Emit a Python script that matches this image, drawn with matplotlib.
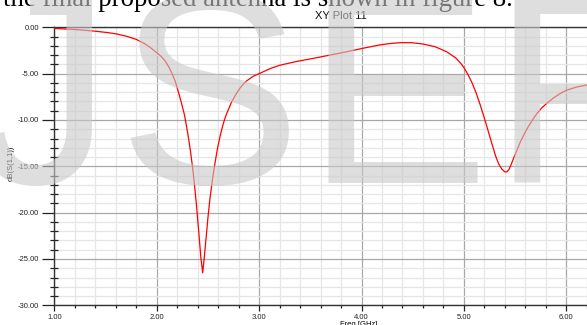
import matplotlib
matplotlib.use("Agg")
import matplotlib.pyplot as plt
from matplotlib.ticker import MultipleLocator, FormatStrFormatter

# S11 data
freq_ghz = [1.00, 1.22, 1.40, 1.52, 1.61, 1.70, 1.80, 1.88, 1.94, 1.99, 2.04, 2.08, 2.12,
            2.15, 2.18, 2.21, 2.24, 2.27, 2.29, 2.31, 2.33, 2.35, 2.37, 2.39, 2.41,
            2.43, 2.449, 2.465, 2.48, 2.50, 2.52, 2.545, 2.57, 2.595, 2.62, 2.65, 2.68,
            2.73, 2.77, 2.81, 2.87, 2.94, 3.01, 3.11, 3.20, 3.36, 3.53, 3.70, 3.86,
            4.02, 4.18, 4.28, 4.38, 4.49, 4.60, 4.72, 4.83, 4.92, 4.97, 5.00, 5.04,
            5.08, 5.12, 5.16, 5.20, 5.24, 5.28, 5.31, 5.34, 5.37, 5.40, 5.42, 5.44,
            5.46, 5.49, 5.52, 5.55, 5.59, 5.63, 5.67, 5.71, 5.76, 5.81, 5.87, 5.94,
            6.00, 6.10, 6.21]
s11_db = [-0.12, -0.25, -0.42, -0.57, -0.72, -0.95, -1.30, -1.75, -2.20, -2.65, -3.10, -3.60, -4.30,
          -5.00, -5.80, -6.90, -8.10, -9.40, -10.60, -11.90, -13.40, -15.10, -17.10, -19.40, -22.00,
          -24.70, -26.50, -24.80, -23.00, -20.60, -18.50, -16.40, -14.60, -13.00, -11.70, -10.40, -9.40,
          -8.10, -7.30, -6.60, -5.85, -5.30, -4.95, -4.45, -4.10, -3.70, -3.35, -2.98, -2.63,
          -2.25, -1.90, -1.75, -1.66, -1.66, -1.80, -2.10, -2.63, -3.30, -3.90, -4.35, -5.10,
          -6.00, -7.10, -8.40, -9.80, -11.30, -12.80, -13.90, -14.75, -15.30, -15.60, -15.60, -15.35,
          -14.85, -14.00, -13.20, -12.40, -11.50, -10.70, -10.00, -9.35, -8.70, -8.20, -7.66, -7.15,
          -6.80, -6.45, -6.20]

x_ticks = [1.0, 2.0, 3.0, 4.0, 5.0, 6.0]
y_ticks = [0.0, -5.0, -10.0, -15.0, -20.0, -25.0, -30.0]

W, H = 587, 325
fig = plt.figure(figsize=(W / 100, H / 100), dpi=100)
plt.rcParams['font.family'] = ['Liberation Sans', 'DejaVu Sans']

def fx(px):
    return px / W

def fy(py):
    return 1 - py / H

x0_px, x_scale = 54.3, 102.4
top_px, bot_px = 27.3, 305.3
ax = fig.add_axes([fx(x0_px), fy(bot_px), 1 - fx(x0_px), (bot_px - top_px) / H])
ax.set_xlim(1.0, 1.0 + (W - x0_px) / x_scale)
ax.set_ylim(-30, 0)

ax.xaxis.set_minor_locator(MultipleLocator(0.2))
ax.yaxis.set_minor_locator(MultipleLocator(1.0))
ax.set_xticks(x_ticks)
ax.set_yticks(y_ticks)
ax.xaxis.set_major_formatter(FormatStrFormatter('%.2f'))
ax.yaxis.set_major_formatter(FormatStrFormatter('%.2f'))

ax.grid(True, which='major', color='#a8a8a8', linewidth=0.9)
ax.grid(True, which='minor', color='#e6e6e6', linewidth=0.9)
ax.set_axisbelow(True)

for s in ['left', 'bottom', 'top']:
    ax.spines[s].set_color('#333333')
    ax.spines[s].set_linewidth(1.0)
ax.spines['right'].set_visible(False)

ax.tick_params(axis='y', which='major', direction='out', length=9, width=0.9,
               labelsize=5.5, colors='#222222', pad=2)
ax.tick_params(axis='y', which='minor', direction='inout', length=6, width=0.9,
               colors='#222222')
ax.tick_params(axis='x', which='major', direction='out', length=4, width=0.9,
               labelsize=5.5, colors='#222222', pad=2)
ax.tick_params(axis='x', which='minor', direction='out', length=2.5, width=0.9,
               colors='#222222')

ax.plot(freq_ghz, s11_db, color='#ff0000', linewidth=0.9, zorder=3)

ax.set_xlabel('Freq [GHz]', fontsize=5.5, labelpad=1)
ax.set_ylabel('dB(S(1,1))', fontsize=5.5)
ax.yaxis.set_label_coords((15 - x0_px) / (W - x0_px), 0.51)
ax.xaxis.set_label_coords((359 - x0_px) / (W - x0_px), -0.055)

fig.text(fx(341), fy(16), 'XY Plot 11', fontsize=8, ha='center', va='center',
         color='#111111')

# cropped line of document text above the chart
fig.text(fx(3), fy(6.5), 'the final proposed antenna is shown in figure 8.',
         family='Liberation Serif', fontsize=19.3, ha='left', va='baseline', color='black')

# watermark
wm_size = 198
for ch, xpx in [('J', -25), ('S', 117), ('E', 305), ('R', 492)]:
    fig.text(fx(xpx), fy(183), ch, family='Liberation Sans', fontsize=wm_size,
             ha='left', va='baseline', color='#c8c8c8', alpha=0.6, zorder=10)

fig.savefig('out.png', dpi=100)
